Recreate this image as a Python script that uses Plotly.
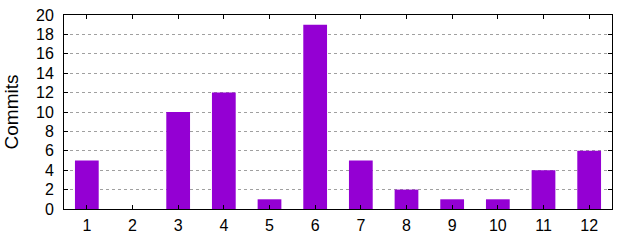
import plotly.graph_objects as go

months = list(range(1, 13))
commits = [5, 0, 10, 12, 1, 19, 5, 2, 1, 1, 4, 6]
y_ticks = list(range(0, 21, 2))

fig = go.Figure(go.Bar(x=months, y=commits, width=0.52, marker=dict(color="#9400D3", line=dict(width=0))))

fig.update_layout(
    width=640, height=240,
    margin=dict(l=64, r=28, t=15, b=31),
    paper_bgcolor="white", plot_bgcolor="white",
    font=dict(family="Liberation Sans, Arial, sans-serif", size=16, color="black"),
    showlegend=False,
)
fig.update_xaxes(
    range=[0.5, 12.5], tickvals=months, ticktext=[str(m) for m in months],
    ticks="inside", ticklen=4, tickcolor="black", mirror="ticks",
    showline=True, linecolor="black", linewidth=1, showgrid=False, zeroline=False,
    ticklabelstandoff=2, automargin=False,
)
fig.update_yaxes(
    range=[0, 20], tickvals=y_ticks, ticks="inside", ticklen=4, tickcolor="black",
    mirror="ticks", showline=True, linecolor="black", linewidth=1,
    showgrid=True, gridcolor="#a0a0a0", griddash="dot", gridwidth=1, zeroline=False,
    ticklabelstandoff=6, automargin=False,
    title=dict(text="Commits", standoff=12),
)
fig.write_html("out.html")
